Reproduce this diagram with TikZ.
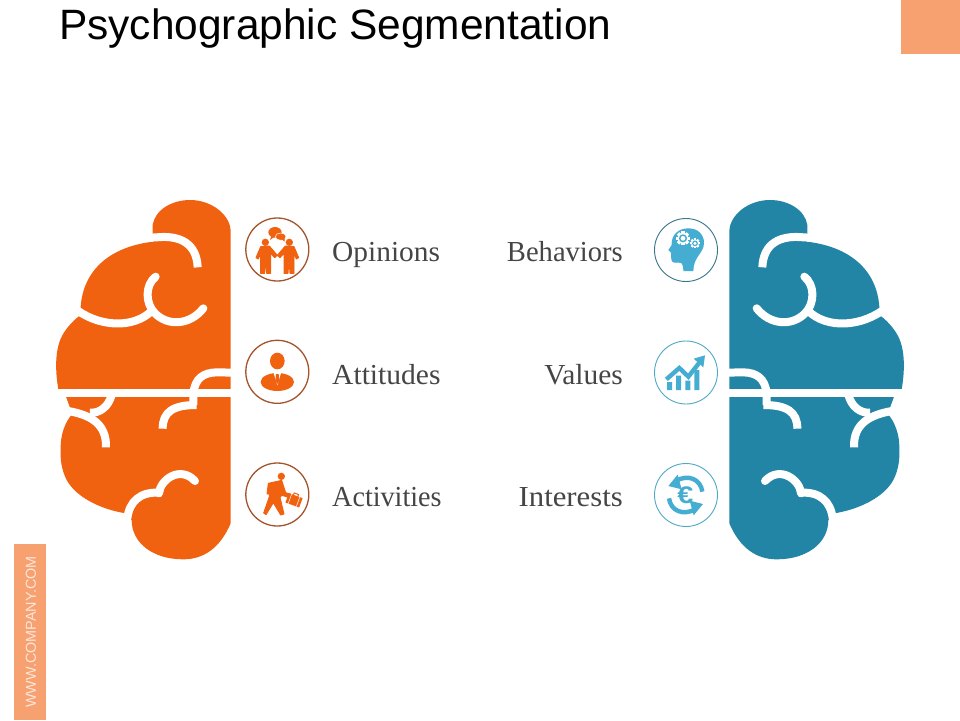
\documentclass[tikz,border=0pt]{standalone}
\usepackage{fontspec}
\usepackage{graphicx}
\setmainfont{Liberation Serif}
\newfontfamily\arialf{Liberation Sans}
\definecolor{brainO}{HTML}{F0620F}
\definecolor{brainB}{HTML}{2285A5}
\definecolor{ringO}{HTML}{A5532B}
\definecolor{ringB}{HTML}{4FA9C4}
\definecolor{iconB}{HTML}{45ADD2}
\definecolor{accent}{HTML}{F7A070}
\definecolor{labelc}{HTML}{454545}
\tikzset{
  gapline/.style={draw=white,line width=8pt,line cap=butt},
  ring/.style={circle,draw=#1,line width=1.3pt,minimum size=63pt,inner sep=0pt},
  thinring/.style={circle,draw=#1,line width=0.9pt,minimum size=63pt,inner sep=0pt},
  lab/.style={font=\fontsize{29}{32}\selectfont,text=labelc,inner sep=0pt},
  heavyO/.style={fill=brainO,draw=brainO,line width=0.9pt,line join=round},
}
\newcommand{\brainshape}[1]{%
  \fill[#1] (338,132) -- (338,105) .. controls (345,60) and (395,30) .. (450,30)
    .. controls (515,30) and (572,75) .. (572,125) -- (572,1000)
    .. controls (540,1075) and (490,1108) .. (430,1108)
    .. controls (340,1108) and (275,1060) .. (275,990) -- (258,970)
    .. controls (190,960) and (110,925) .. (80,870)
    .. controls (65,840) and (60,810) .. (62,770)
    .. controls (62,735) and (75,695) .. (97,672) -- (78,620) -- (55,598)
    .. controls (45,540) and (45,480) .. (65,440)
    .. controls (75,420) and (95,395) .. (118,378) -- (122,350)
    .. controls (130,240) and (210,170) .. (340,155) -- cycle;
  \draw[gapline] (330,143) -- (350,142) .. controls (420,135) and (470,160) .. (473,232);
  \draw[gapline,line cap=round] (347,260) .. controls (315,285) and (315,340) .. (345,370)
    .. controls (385,410) and (450,405) .. (490,355);
  \draw[gapline] (100,352) .. controls (170,410) and (280,420) .. (338,360);
  \fill[white] (35,598) rectangle (580,620);
  \draw[gapline] (585,548) -- (530,547) .. controls (490,548) and (465,565) .. (460,610) -- (460,645);
  \draw[gapline] (449,645) -- (470,645) .. controls (400,645) and (368,665) .. (368,716);
  \draw[gapline] (85,663) .. controls (150,675) and (200,700) .. (198,772);
  \draw[gapline] (215,615) .. controls (205,650) and (180,670) .. (150,668);
  \draw[gapline] (262,985) .. controls (268,935) and (300,905) .. (357,908);
  \draw[gapline,line cap=round] (357,910) .. controls (360,870) and (420,825) .. (465,873);
}
\newcommand{\gearicon}[3]{% x,y,r
  \foreach \a in {0,45,...,315}{\fill[white,rotate around={\a:(#1,#2)}] (#1-#3*0.28,#2-#3*1.22) rectangle (#1+#3*0.28,#2+#3*1.22);}
  \fill[white] (#1,#2) circle (#3);
  \fill[iconB] (#1,#2) circle (#3*0.72);
  \fill[white] (#1,#2) circle (#3*0.42);
}
\begin{document}
\begin{tikzpicture}[x=1pt,y=-1pt]
\useasboundingbox (0,0) rectangle (960,720);
\fill[white] (0,0) rectangle (960,720);
\fill[accent] (901,0) rectangle (960,54);
\fill[accent] (14,544) rectangle (46,720);
\node[anchor=base west,inner sep=0pt,font=\arialf\fontsize{42.45}{46}\selectfont,text=black] (title) at (59,39) {Psychographic Segmentation};
\node[rotate=90,inner sep=0pt,font=\arialf\fontsize{14.4}{16}\selectfont,text=white!75!accent] (company) at (31,632) {WWW.COMPANY.COM};
% brains
\begin{scope}[shift={(40,190)},x=0.33333pt,y=-0.33333pt]
  \brainshape{brainO}
\end{scope}
\begin{scope}[shift={(920,190)},x=-0.33333pt,y=-0.33333pt]
  \brainshape{brainB}
\end{scope}
% rings
\node[ring=ringO] (rOpinions) at (277.3,249.5) {};
\node[ring=ringO] (rAttitudes) at (277.3,371.8) {};
\node[ring=ringO] (rActivities) at (277.3,494.5) {};
\node[thinring=ringB!70!black] (rBehaviors) at (686,250) {};
\node[thinring=ringB] (rValues) at (686,372.5) {};
\node[thinring=ringB] (rInterests) at (686,495) {};
% labels
\node[lab,anchor=base west] (lOpinions) at (332,261) {\scalebox{1.014}[1]{Opinions}};
\node[lab,anchor=base west] (lAttitudes) at (332,384) {\scalebox{1.019}[1]{Attitudes}};
\node[lab,anchor=base west] (lActivities) at (332,506) {\scalebox{0.97}[1]{Activities}};
\node[lab,anchor=base east] (lBehaviors) at (623,261) {\scalebox{0.985}[1]{Behaviors}};
\node[lab,anchor=base east] (lValues) at (623,384) {\scalebox{1.015}[1]{Values}};
\node[lab,anchor=base east] (lInterests) at (623,506) {\scalebox{1.06}[1]{Interests}};
% orange icons
\begin{scope}[shift={(240,210)},x=0.33333pt,y=-0.33333pt]
  % two people
  \fill[brainO] (76,97) circle (11) (148,97) circle (11);
  \path[heavyO] (62,110) -- (88,108) -- (112,136) -- (104,143) -- (92,130) -- (92,190) -- (80,190) -- (77,150) -- (74,190) -- (62,190) -- (62,130) -- (55,147) -- (48,143) -- cycle;
  \path[heavyO] (162,110) -- (136,108) -- (112,136) -- (120,143) -- (132,130) -- (132,190) -- (144,190) -- (147,150) -- (150,190) -- (162,190) -- (162,130) -- (169,147) -- (176,143) -- cycle;
  \fill[brainO] (105,67) ellipse (20 and 16);
  \fill[brainO] (95,75) -- (90,90) -- (104,80) -- cycle;
  \filldraw[fill=brainO,draw=white,line width=0.5pt] (122,80) ellipse (16 and 11);
  \fill[brainO] (125,88) -- (134,95) -- (134,84) -- cycle;
  % person in suit
  \fill[brainO] (112,453) ellipse (22 and 25);
  \fill[brainO] (112,516) ellipse (50 and 27);
  \fill[white] (100,486) -- (112,526) -- (124,486) -- cycle;
  \fill[brainO] (108,492) -- (116,492) -- (118,512) -- (112,522) -- (106,512) -- cycle;
  % walker with case
  \fill[brainO] (124,799) circle (11);
  \path[heavyO] (85,820) -- (125,811) -- (137,848) -- (156,854) -- (152,864) -- (126,856) -- (120,862) -- (132,912) -- (122,915) -- (100,878) -- (78,914) -- (71,909) -- (88,860) -- (88,840) -- (90,852) -- (81,852) -- cycle;
  \begin{scope}[rotate around={-20:(162,871)}]
    \fill[brainO] (140,856) rectangle (184,886);
    \draw[white,line width=0.5pt] (149,856) -- (149,886) (175,856) -- (175,886);
    \draw[brainO,line width=1pt] (155,856) -- (155,850) -- (169,850) -- (169,856);
  \end{scope}
\end{scope}
% blue icons
\begin{scope}[shift={(645,210)},x=0.33333pt,y=-0.33333pt]
  % head with gears
  \fill[iconB] (115,183) .. controls (115,170) and (113,165) .. (110,160) .. controls (100,155) and (88,162) .. (82,155) .. controls (76,148) and (80,135) .. (78,128) -- (70,120) -- (80,105) .. controls (78,75) and (100,55) .. (130,55) .. controls (160,55) and (178,75) .. (177,100) .. controls (176,130) and (145,140) .. (145,183) -- cycle;
  \gearicon{114}{85}{17}
  \gearicon{150}{100}{12}
  % chart
  \fill[iconB] (66,540) rectangle (81,516) (93,540) rectangle (108,497) (121,540) rectangle (136,512) (148,540) rectangle (163,480);
  \draw[iconB,line width=4.4pt,line join=miter] (64,508) -- (103,474) -- (130,500) -- (163,458);
  \fill[iconB] (146,446) -- (180,436) -- (175,472) -- cycle;
  % euro
  \draw[iconB,line width=4.4pt] (172,845) .. controls (167,808) and (130,791) .. (92,813);
  \fill[iconB] (70,828) -- (98,794) -- (110,838) -- cycle;
  \draw[iconB,line width=4.4pt] (72,865) .. controls (77,902) and (114,919) .. (152,897);
  \fill[iconB] (174,882) -- (146,916) -- (134,872) -- cycle;
  \node[inner sep=0pt,text=iconB,font=\arialf\bfseries\fontsize{24}{26}\selectfont] (euro) at (121,855) {\scalebox{1.2}[1]{€}};
\end{scope}
\end{tikzpicture}
\end{document}
